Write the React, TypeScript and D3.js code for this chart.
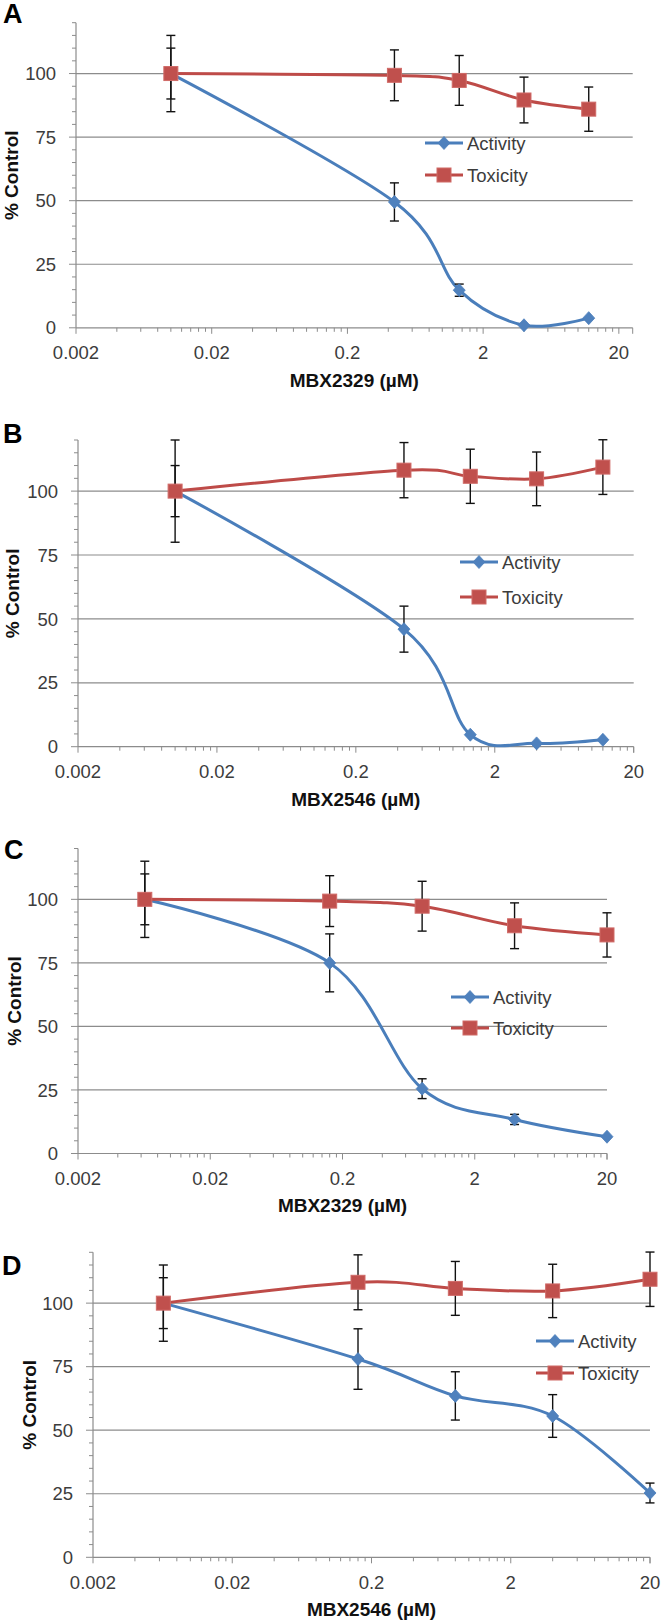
import React from "react";
import * as d3 from "d3";

// concentrations (µM)
const concAB = [0.01, 0.444, 1.333, 4, 12];
const concCD = [0.0064, 0.16, 0.8, 4, 20];

// panel A: MBX2329
const activityA = [100, 49.5, 14.8, 1, 3.8];
const activityErrA = [15, 7.5, 2.4, 0, 0];
const toxicityA = [100, 99.3, 97.3, 89.6, 86];
const toxicityErrA = [10, 10, 9.8, 9, 8.7];

// panel B: MBX2546
const activityB = [100, 46, 4.7, 1.3, 2.7];
const activityErrB = [20, 9, 0, 0, 0];
const toxicityB = [100, 108.2, 105.8, 104.8, 109.4];
const toxicityErrB = [10, 10.8, 10.6, 10.5, 10.7];

// panel C: MBX2329
const activityC = [100, 75, 25.5, 13.4, 6.6];
const activityErrC = [15, 11.4, 3.9, 2, 0];
const toxicityC = [100, 99.3, 97.3, 89.6, 86];
const toxicityErrC = [10, 10, 9.8, 9, 8.7];

// panel D: MBX2546
const activityD = [100, 78, 63.5, 55.6, 25.3];
const activityErrD = [15, 11.9, 9.5, 8.4, 3.9];
const toxicityD = [100, 108.2, 105.8, 104.8, 109.4];
const toxicityErrD = [10, 10.8, 10.6, 10.5, 10.7];

const xTickValues = [0.002, 0.02, 0.2, 2, 20];
const xTickLabels = ["0.002", "0.02", "0.2", "2", "20"];
const yTickValues = [0, 25, 50, 75, 100];
const seriesNames = ["Activity", "Toxicity"];

const BLUE = "#4a7ebb";
const BLUE_M = "#4f81bd";
const RED = "#be4b48";
const RED_M = "#c0504d";
const FONT = "'Liberation Sans', Arial, sans-serif";

function Panel({ p }) {
  const x = d3.scaleLog().domain([0.002, p.xMax]).range([p.left, p.right]);
  const y = d3.scaleLinear().domain([0, 120]).range([p.bottom, p.top]);
  const line = d3
    .line()
    .x((d) => x(d[0]))
    .y((d) => y(d[1]))
    .curve(d3.curveCardinal.tension(0));

  // minor ticks: k * 0.002 * 10^n
  const minor = [];
  xTickValues.forEach((b) => {
    for (let k = 2; k <= 9; k++) {
      const v = b * k;
      if (v < p.xMax) minor.push(v);
    }
  });
  const yMinor = d3.range(0, 121, 5);

  const act = p.conc.map((c, i) => [c, p.activity[i]]);
  const tox = p.conc.map((c, i) => [c, p.toxicity[i]]);

  const errBars = (vals, errs, key) =>
    p.conc.map((c, i) =>
      errs[i] > 0 ? (
        <g key={key + i} stroke="#111" strokeWidth={1.4}>
          <line x1={x(c)} x2={x(c)} y1={y(vals[i] + errs[i])} y2={y(vals[i] - errs[i])} />
          <line x1={x(c) - 4.5} x2={x(c) + 4.5} y1={y(vals[i] + errs[i])} y2={y(vals[i] + errs[i])} />
          <line x1={x(c) - 4.5} x2={x(c) + 4.5} y1={y(vals[i] - errs[i])} y2={y(vals[i] - errs[i])} />
        </g>
      ) : null
    );

  const diamond = (cx, cy, key) => (
    <path key={key} d={`M${cx},${cy - 6.5}L${cx + 6},${cy}L${cx},${cy + 6.5}L${cx - 6},${cy}Z`} fill={BLUE_M} stroke={BLUE} strokeWidth={0.8} />
  );
  const square = (cx, cy, key) => (
    <rect key={key} x={cx - 7} y={cy - 7} width={14} height={14} fill={RED_M} stroke="#d06a67" strokeWidth={1} />
  );

  const midX = (p.left + p.right) / 2;
  const midY = (p.top + p.bottom) / 2;

  return (
    <g fontFamily={FONT}>
      {/* gridlines */}
      {yTickValues.slice(1).map((v) => (
        <line key={"g" + v} x1={p.left} x2={p.right} y1={y(v)} y2={y(v)} stroke="#8c8c8c" strokeWidth={1.2} />
      ))}
      {/* y axis */}
      <line x1={p.left} x2={p.left} y1={p.top} y2={p.bottom} stroke="#8c8c8c" strokeWidth={1.2} />
      {yMinor.map((v) => (
        <line key={"ym" + v} x1={p.left - (v % 25 === 0 ? 7 : 4)} x2={p.left} y1={y(v)} y2={y(v)} stroke="#8c8c8c" />
      ))}
      {yTickValues.map((v) => (
        <text key={"yl" + v} x={p.left - 20} y={y(v)} dy="0.36em" textAnchor="end" fontSize={18.5} fill="#3c3c3c">
          {v}
        </text>
      ))}
      {/* x axis */}
      <line x1={p.left} x2={p.right} y1={p.bottom} y2={p.bottom} stroke="#8c8c8c" strokeWidth={1.2} />
      {minor.map((v, i) => (
        <line key={"xm" + i} x1={x(v)} x2={x(v)} y1={p.bottom} y2={p.bottom + 4} stroke="#8c8c8c" />
      ))}
      {xTickValues.map((v) => (
        <line key={"xM" + v} x1={x(v)} x2={x(v)} y1={p.bottom} y2={p.bottom + 6} stroke="#8c8c8c" />
      ))}
      <line x1={p.right} x2={p.right} y1={p.bottom} y2={p.bottom + 6} stroke="#8c8c8c" />
      {xTickValues.map((v, i) => (
        <text key={"xl" + v} x={Math.min(x(v), p.labelMaxX)} y={p.bottom + 25} dy="0.36em" textAnchor="middle" fontSize={18.5} fill="#3c3c3c">
          {xTickLabels[i]}
        </text>
      ))}
      {/* titles */}
      <text x={midX} y={p.bottom + 52} dy="0.36em" textAnchor="middle" fontSize={19} fontWeight="bold" fill="#111">
        {p.xLabel}
      </text>
      <text transform={`translate(${p.yTitleX},${midY}) rotate(-90)`} textAnchor="middle" fontSize={19} fontWeight="bold" fill="#111">
        % Control
      </text>
      <text x={p.letterX} y={p.letterY} fontSize={27} fontWeight="bold" fill="#000">
        {p.letter}
      </text>
      {/* activity */}
      <path d={line(act)} fill="none" stroke={BLUE} strokeWidth={3} />
      {errBars(p.activity, p.activityErr, "ae")}
      {act.map((d, i) => diamond(x(d[0]), y(d[1]), "ad" + i))}
      {/* toxicity */}
      <path d={line(tox)} fill="none" stroke={RED} strokeWidth={3} />
      {errBars(p.toxicity, p.toxicityErr, "te")}
      {tox.map((d, i) => square(x(d[0]), y(d[1]), "ts" + i))}
      {/* legend */}
      <line x1={p.legX} x2={p.legX + 38} y1={p.legY1} y2={p.legY1} stroke={BLUE} strokeWidth={3} />
      {diamond(p.legX + 19, p.legY1, "lgd")}
      <text x={p.legX + 42} y={p.legY1} dy="0.36em" fontSize={18.5} fill="#3c3c3c">
        {seriesNames[0]}
      </text>
      <line x1={p.legX} x2={p.legX + 38} y1={p.legY2} y2={p.legY2} stroke={RED} strokeWidth={3} />
      {square(p.legX + 19, p.legY2, "lgs")}
      <text x={p.legX + 42} y={p.legY2} dy="0.36em" fontSize={18.5} fill="#3c3c3c">
        {seriesNames[1]}
      </text>
    </g>
  );
}

const panels = [
  {
    letter: "A", letterX: 3, letterY: 23, xLabel: "MBX2329 (µM)", yTitleX: 18,
    left: 76, right: 632.7, top: 22.7, bottom: 327.8, xMax: 25.3, labelMaxX: 999,
    legX: 425, legY1: 143, legY2: 175,
    conc: concAB, activity: activityA, activityErr: activityErrA, toxicity: toxicityA, toxicityErr: toxicityErrA,
  },
  {
    letter: "B", letterX: 3, letterY: 443, xLabel: "MBX2546 (µM)", yTitleX: 19,
    left: 78, right: 633.7, top: 440, bottom: 746.7, xMax: 20, labelMaxX: 999,
    legX: 460, legY1: 562, legY2: 597,
    conc: concAB, activity: activityB, activityErr: activityErrB, toxicity: toxicityB, toxicityErr: toxicityErrB,
  },
  {
    letter: "C", letterX: 4, letterY: 859, xLabel: "MBX2329 (µM)", yTitleX: 21,
    left: 78, right: 607, top: 848.5, bottom: 1153.5, xMax: 20, labelMaxX: 999,
    legX: 451, legY1: 997, legY2: 1028,
    conc: concCD, activity: activityC, activityErr: activityErrC, toxicity: toxicityC, toxicityErr: toxicityErrC,
  },
  {
    letter: "D", letterX: 2, letterY: 1275, xLabel: "MBX2546 (µM)", yTitleX: 36,
    left: 93, right: 650, top: 1252.3, bottom: 1557.3, xMax: 20, labelMaxX: 999,
    legX: 536, legY1: 1341, legY2: 1373,
    conc: concCD, activity: activityD, activityErr: activityErrD, toxicity: toxicityD, toxicityErr: toxicityErrD,
  },
];

export default function App() {
  return (
    <svg
      width={666}
      height={1623}
      style={{ position: "absolute", left: 0, top: 0, background: "#fff" }}
    >
      <rect width={666} height={1623} fill="#fff" />
      {panels.map((p) => (
        <Panel key={p.letter} p={p} />
      ))}
    </svg>
  );
}
